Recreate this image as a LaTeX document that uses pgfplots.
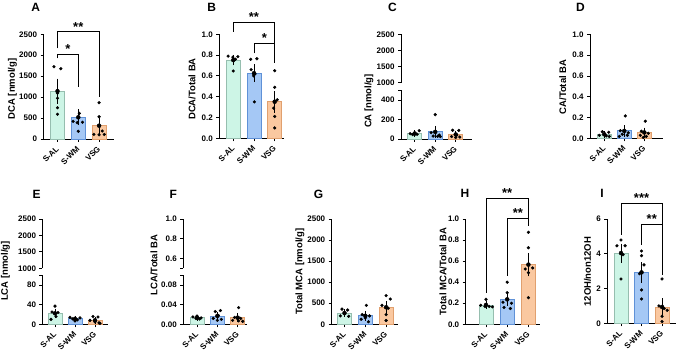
\documentclass[border=0pt]{standalone}
\usepackage{fontspec}
\setmainfont{Liberation Sans}
\usepackage{graphicx}
\usepackage{pgfplots}
\pgfplotsset{compat=1.18}
\definecolor{alF}{RGB}{205,245,230}
\definecolor{alE}{RGB}{150,190,175}
\definecolor{wmF}{RGB}{165,200,245}
\definecolor{wmE}{RGB}{95,145,215}
\definecolor{vsF}{RGB}{250,200,160}
\definecolor{vsE}{RGB}{225,160,110}
\newcommand{\tk}[1]{{\bfseries\fontsize{8}{9}\selectfont #1}}
\newcommand{\rl}[1]{\rotatebox{45}{\tk{#1}}}
\pgfplotsset{
 gp/.style={
  scale only axis,
  axis x line*=bottom, axis y line*=left,
  axis line style={line width=0.9pt,-},
  tick align=outside, major tick length=3pt,
  every tick/.style={black, line width=0.9pt},
  xtick={0,1,2}, xticklabels={\rl{S-AL},\rl{S-WM},\rl{VSG}},
  every x tick label/.append style={anchor=north east, inner sep=1pt, xshift=3pt, yshift=-2.5pt},
  clip=false,
  ymin=0,
 },
 yk/.style={ytick={0,500,1000,1500,2000,2500}, yticklabels={\tk{0},\tk{500},\tk{1000},\tk{1500},\tk{2000},\tk{2500}}},
 yr/.style={ytick={0,0.2,0.4,0.6,0.8,1.0}, yticklabels={\tk{0.0},\tk{0.2},\tk{0.4},\tk{0.6},\tk{0.8},\tk{1.0}}},
 yu/.style={ytick={1000,1500,2000,2500}, yticklabels={\tk{1000},\tk{1500},\tk{2000},\tk{2500}}},
 dots/.style={only marks, mark=*, mark size=1.4pt, black, mark options={fill=black, draw=black}},
}
\tikzset{br/.style={line width=0.8pt, black},
 ast/.style={font=\bfseries\fontsize{13}{13}\selectfont, anchor=base, inner sep=0pt, yshift=0.5pt},
 ylab/.style={rotate=90, font=\bfseries\fontsize{9.5}{10}\selectfont, inner sep=0pt},
 plet/.style={font=\bfseries\fontsize{12}{12}\selectfont, inner sep=0pt}}
\newcommand{\bars}[3]{%
\addplot[ybar, bar width=14pt, bar shift=0pt, fill=alF, draw=alE, line width=0.8pt] coordinates {(0,#1)};
\addplot[ybar, bar width=14pt, bar shift=0pt, fill=wmF, draw=wmE, line width=0.8pt] coordinates {(1,#2)};
\addplot[ybar, bar width=14pt, bar shift=0pt, fill=vsF, draw=vsE, line width=0.8pt] coordinates {(2,#3)};}
\newcommand{\errs}[1]{\addplot[only marks, mark=none, black, error bars/.cd, y dir=both, y explicit, error bar style={line width=0.8pt, black}, error mark options={line width=0.8pt, mark size=2.5pt, black}] coordinates {#1};}
\begin{document}
\begin{tikzpicture}
\path[use as bounding box] (0,0) rectangle (677pt,351pt);
% A
\begin{axis}[gp, yk, at={(43.5pt,212pt)}, width=70.5pt, height=104.7pt, xmin=-0.673, xmax=2.716, ymax=2500]
\bars{1143}{518}{318}
\errs{(0,1143) +- (0,237) (1,518) +- (0,128) (2,318) +- (0,129)}
\addplot[dots] coordinates {(-0.17,1726) (0.16,1679) (0,972) (0,747) (0,590)
 (0,1091) (1.05,614) (0.75,420) (1.2,400) (0.95,390) (1,183)
 (2,867) (2,532) (2.15,191) (1.75,110) (2,100) (2.25,108)};
\draw[br] (axis cs:0,2166) |- (axis cs:2,2562) -- (axis cs:2,1010);
\node[ast] at (axis cs:1,2562) {**};
\draw[br] (axis cs:0,1927) |- (axis cs:1,2030) -- (axis cs:1,1249);
\node[ast] at (axis cs:0.5,2030) {*};
\end{axis}
% B
\begin{axis}[gp, yr, at={(219.3pt,212.7pt)}, width=64.2pt, height=104pt, xmin=-0.676, xmax=2.425, ymax=1]
\bars{0.752}{0.626}{0.352}
\errs{(0,0.752) +- (0,0.027) (1,0.626) +- (0,0.063) (2,0.352) +- (0,0.081)}
\addplot[dots] coordinates {(-0.25,0.79) (-0.02,0.78) (0.22,0.785) (0,0.647) (0.1,0.76)
 (0.84,0.76) (1.14,0.765) (0.86,0.66) (1.05,0.62) (0.98,0.60) (1.02,0.35)
 (2,0.65) (2,0.49) (2.12,0.37) (1.95,0.29) (2,0.21) (2,0.10)};
\draw[br] (axis cs:0,1.025) |- (axis cs:2,1.115) -- (axis cs:2,0.721);
\node[ast] at (axis cs:1,1.115) {**};
\draw[br] (axis cs:1,0.817) |- (axis cs:2,0.913) -- (axis cs:2,0.721);
\node[ast] at (axis cs:1.5,0.913) {*};
\end{axis}
% C lower
\begin{axis}[gp, at={(401pt,212pt)}, width=70.7pt, height=48.75pt, xmin=-0.668, xmax=2.78, ymax=500, ytick={0,200,400}, yticklabels={\tk{0},\tk{200},\tk{400}}, extra y ticks={500}, extra y tick labels={}]
\bars{56.6}{73}{46.3}
\errs{(0,56.6) +- (0,7) (1,73) +- (0,36) (2,46.3) +- (0,14)}
\addplot[dots] coordinates {(0.22,85) (-0.22,55) (0,50) (0.12,48) (-0.1,45)
 (1,250) (0.8,65) (1.2,40) (0.9,30) (1.12,28) (1.25,25)
 (1.85,90) (2.15,88) (2.05,40) (1.8,25) (2.2,20) (2,15)};
\end{axis}
% C upper
\begin{axis}[gp, yu, at={(401pt,268.3pt)}, width=70.7pt, height=48.4pt, xmin=-0.668, xmax=2.78, ymin=1000, ymax=2500, axis x line=none]
\end{axis}
% D
\begin{axis}[gp, yr, at={(590pt,212.5pt)}, width=73pt, height=104.2pt, xmin=-0.715, xmax=2.935, ymax=1]
\bars{0.04}{0.073}{0.058}
\errs{(0,0.04) +- (0,0.009) (1,0.073) +- (0,0.030) (2,0.058) +- (0,0.023)}
\addplot[dots] coordinates {(-0.1,0.065) (0.22,0.06) (-0.25,0.03) (0.1,0.025) (0.25,0.02)
 (1.05,0.217) (0.8,0.075) (1.2,0.055) (0.9,0.04) (1.15,0.03) (0.75,0.02)
 (2.05,0.166) (1.85,0.07) (2.2,0.05) (1.8,0.03) (2.1,0.02) (1.95,0.01)};
\end{axis}
% E lower
\begin{axis}[gp, at={(42.5pt,26.7pt)}, width=65.5pt, height=49.1pt, xmin=-0.625, xmax=2.65, ymax=100, ytick={0,40,80}, yticklabels={\tk{0},\tk{40},\tk{80}}, extra y ticks={100}, extra y tick labels={}]
\bars{22.4}{11}{8.2}
\errs{(0,22.4) +- (0,4.6) (1,11) +- (0,1.1) (2,8.2) +- (0,2.5)}
\addplot[dots] coordinates {(0,37) (-0.15,25) (0.15,24) (0.05,16) (-0.2,10)
 (0.75,14) (1.25,13) (1,12) (0.88,11) (1.12,9) (1,7)
 (1.9,16) (2.15,15) (1.75,8) (2,5) (2.2,3) (2.25,2)};
\end{axis}
% E upper
\begin{axis}[gp, yu, at={(42.5pt,82.7pt)}, width=65.5pt, height=49.3pt, xmin=-0.625, xmax=2.65, ymin=1000, ymax=2500, axis x line=none]
\end{axis}
% F lower
\begin{axis}[gp, at={(183.3pt,26.7pt)}, width=63.7pt, height=49.1pt, xmin=-0.675, xmax=2.46, ymax=0.1, ytick={0,0.04,0.08}, yticklabels={\tk{0.00},\tk{0.04},\tk{0.08}}, extra y ticks={0.1}, extra y tick labels={}]
\bars{0.0136}{0.017}{0.0135}
\errs{(0,0.0136) +- (0,0.001) (1,0.017) +- (0,0.0034) (2,0.0135) +- (0,0.0044)}
\addplot[dots] coordinates {(0,0.017) (-0.2,0.015) (0.2,0.013) (-0.05,0.012) (0.12,0.011)
 (1.15,0.028) (0.9,0.026) (1.05,0.018) (0.8,0.012) (1.2,0.01) (1,0.008)
 (2.05,0.034) (1.85,0.014) (2.15,0.012) (1.75,0.008) (2.05,0.007) (2.25,0.006)};
\end{axis}
% F upper
\begin{axis}[gp, at={(183.3pt,82.9pt)}, width=63.7pt, height=49.1pt, xmin=-0.675, xmax=2.46, ymin=0.5, ymax=1, ytick={0.6,0.8,1.0}, yticklabels={\tk{0.6},\tk{0.8},\tk{1.0}}, extra y ticks={0.5}, extra y tick labels={}, axis x line=none]
\end{axis}
% G
\begin{axis}[gp, yk, at={(331.7pt,26.7pt)}, width=66.3pt, height=105.3pt, xmin=-0.615, xmax=2.57, ymax=2500]
\bars{268}{202}{405}
\errs{(0,268) +- (0,35) (1,202) +- (0,55) (2,405) +- (0,91)}
\addplot[dots] coordinates {(-0.12,360) (0.15,340) (0,250) (-0.2,200) (0.2,190)
 (1.05,450) (0.85,230) (1.2,200) (1,150) (0.8,120) (1.15,60)
 (2,680) (2.2,600) (1.8,450) (2.1,380) (2,230) (2,90)};
\end{axis}
% H
\begin{axis}[gp, yr, at={(465.7pt,26.7pt)}, width=74.3pt, height=105.3pt, xmin=-0.958, xmax=2.547, ymax=1]
\bars{0.184}{0.237}{0.567}
\errs{(0,0.184) +- (0,0.013) (1,0.237) +- (0,0.039) (2,0.567) +- (0,0.087)}
\addplot[dots] coordinates {(0,0.237) (-0.25,0.18) (-0.05,0.17) (0.15,0.17) (0.3,0.165)
 (1,0.40) (1,0.30) (0.8,0.21) (1.2,0.20) (0.85,0.16) (1.15,0.15)
 (2,0.874) (2,0.727) (2.2,0.535) (1.85,0.525) (2,0.49) (2,0.253)};
\draw[br] (axis cs:0,0.30) |- (axis cs:2,1.20) -- (axis cs:2,0.93);
\node[ast] at (axis cs:1,1.20) {**};
\draw[br] (axis cs:1,0.46) |- (axis cs:2,1.006) -- (axis cs:2,0.93);
\node[ast] at (axis cs:1.5,1.006) {**};
\end{axis}
% I
\begin{axis}[gp, at={(607.3pt,27.7pt)}, width=68.7pt, height=104.3pt, xmin=-0.668, xmax=2.68, ymax=6, ytick={0,2,4,6}, yticklabels={\tk{0},\tk{2},\tk{4},\tk{6}}]
\bars{4.04}{2.93}{0.94}
\errs{(0,4.04) +- (0,0.40) (1,2.93) +- (0,0.45) (2,0.94) +- (0,0.35)}
\addplot[dots] coordinates {(0,4.79) (-0.2,4.46) (0.2,4.46) (0.1,3.95) (0,2.55)
 (1,4.16) (1,3.89) (1.12,3.36) (0.9,2.85) (1,1.92) (1,1.40)
 (2,2.55) (1.85,1.0) (2.1,0.85) (2.25,0.75) (2,0.4) (2,0.1)};
\draw[br] (axis cs:0,5.08) |- (axis cs:2,6.90) -- (axis cs:2,2.78);
\node[ast] at (axis cs:1,6.90) {***};
\draw[br] (axis cs:1,4.50) |- (axis cs:2,5.70) -- (axis cs:2,2.78);
\node[ast] at (axis cs:1.5,5.70) {**};
\end{axis}
% y labels
\node[ylab] at (12.5pt,262pt) {DCA [nmol/g]};
\node[ylab] at (192pt,262pt) {DCA/Total BA};
\node[ylab] at (369pt,250pt) {CA [nmol/g]};
\node[ylab] at (562.7pt,264pt) {CA/Total BA};
\node[ylab] at (5.5pt,80pt) {LCA [nmol/g]};
\node[ylab] at (154pt,86pt) {LCA/Total BA};
\node[ylab] at (300pt,79.3pt) {Total MCA [nmol/g]};
\node[ylab] at (443pt,79.3pt) {Total MCA/Total BA};
\node[ylab] at (587.5pt,79.3pt) {12OH/non12OH};
% panel letters
\node[plet] at (35.8pt,343.5pt) {A};
\node[plet] at (211.7pt,344pt) {B};
\node[plet] at (392.5pt,344pt) {C};
\node[plet] at (580.5pt,343.5pt) {D};
\node[plet] at (36.7pt,157pt) {E};
\node[plet] at (173.3pt,157pt) {F};
\node[plet] at (318.5pt,157pt) {G};
\node[plet] at (465pt,158pt) {H};
\node[plet] at (602pt,158pt) {I};
\end{tikzpicture}
\end{document}
